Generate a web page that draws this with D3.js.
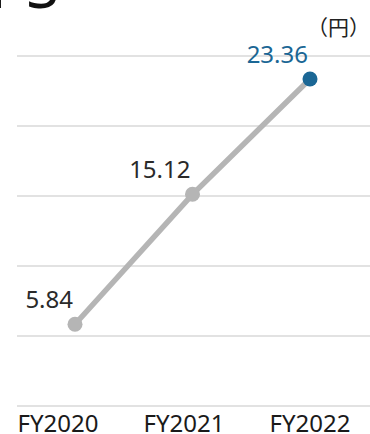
<!DOCTYPE html>
<html>
<head>
<meta charset="utf-8">
<script src="https://cdn.jsdelivr.net/npm/d3@7"></script>
<style>
  html, body { margin: 0; padding: 0; background: #fff; }
  svg { display: block; }
</style>
</head>
<body>
<svg id="chart" width="370" height="434"></svg>
<script>
// EPS per fiscal year (yen)
const categories = ["FY2020", "FY2021", "FY2022"];
const values = [5.84, 15.12, 23.36];
const valueLabels = ["5.84", "15.12", "23.36"];
const gridTicks = [0, 5, 10, 15, 20, 25];
const title = "EPS";
const unitLabel = "（円）";

const svg = d3.select("#chart");
const font = "'Noto Sans', 'Open Sans', sans-serif";

const x = d3.scalePoint().domain(categories).range([75, 310]);
const xLabel = d3.scalePoint().domain(categories).range([58, 310]);
const y = d3.scaleLinear().domain([0, 25]).range([406, 56]);

// big title, mostly above the visible area
svg.append("text")
  .attr("x", 59).attr("y", 8)
  .attr("text-anchor", "end")
  .attr("font-family", font)
  .attr("font-size", 60)
  .attr("fill", "#111")
  .text(title);

// unit
svg.append("text")
  .attr("x", 370).attr("y", 35)
  .attr("text-anchor", "end")
  .attr("font-family", "'Noto Sans CJK JP', sans-serif")
  .attr("font-size", 21)
  .attr("fill", "#222")
  .text(unitLabel);

// horizontal gridlines
svg.append("g").selectAll("line")
  .data(gridTicks)
  .join("line")
  .attr("x1", 17).attr("x2", 370)
  .attr("y1", d => y(d)).attr("y2", d => y(d))
  .attr("stroke", "#d9d9d9")
  .attr("stroke-width", 1.5);

// category labels
svg.append("g").selectAll("text")
  .data(categories)
  .join("text")
  .attr("x", d => xLabel(d))
  .attr("y", 432)
  .attr("text-anchor", "middle")
  .attr("font-family", font)
  .attr("font-size", 24)
  .attr("fill", "#1a1a1a")
  .text(d => d);

const pts = categories.map((c, i) => ({ c, v: values[i], label: valueLabels[i], last: i === categories.length - 1 }));

// line
svg.append("path")
  .datum(pts)
  .attr("fill", "none")
  .attr("stroke", "#b5b5b5")
  .attr("stroke-width", 5.5)
  .attr("d", d3.line().x(d => x(d.c)).y(d => y(d.v)));

// markers
svg.append("g").selectAll("circle")
  .data(pts)
  .join("circle")
  .attr("cx", d => x(d.c))
  .attr("cy", d => y(d.v))
  .attr("r", 7.5)
  .attr("fill", d => d.last ? "#1b6795" : "#b5b5b5");

// value labels
svg.append("g").selectAll("text")
  .data(pts)
  .join("text")
  .attr("x", d => x(d.c) - 2)
  .attr("y", d => y(d.v) - 16)
  .attr("text-anchor", "end")
  .attr("font-family", font)
  .attr("font-size", 24)
  .attr("fill", d => d.last ? "#1b6795" : "#2a2a2a")
  .text(d => d.label);
</script>
</body>
</html>
